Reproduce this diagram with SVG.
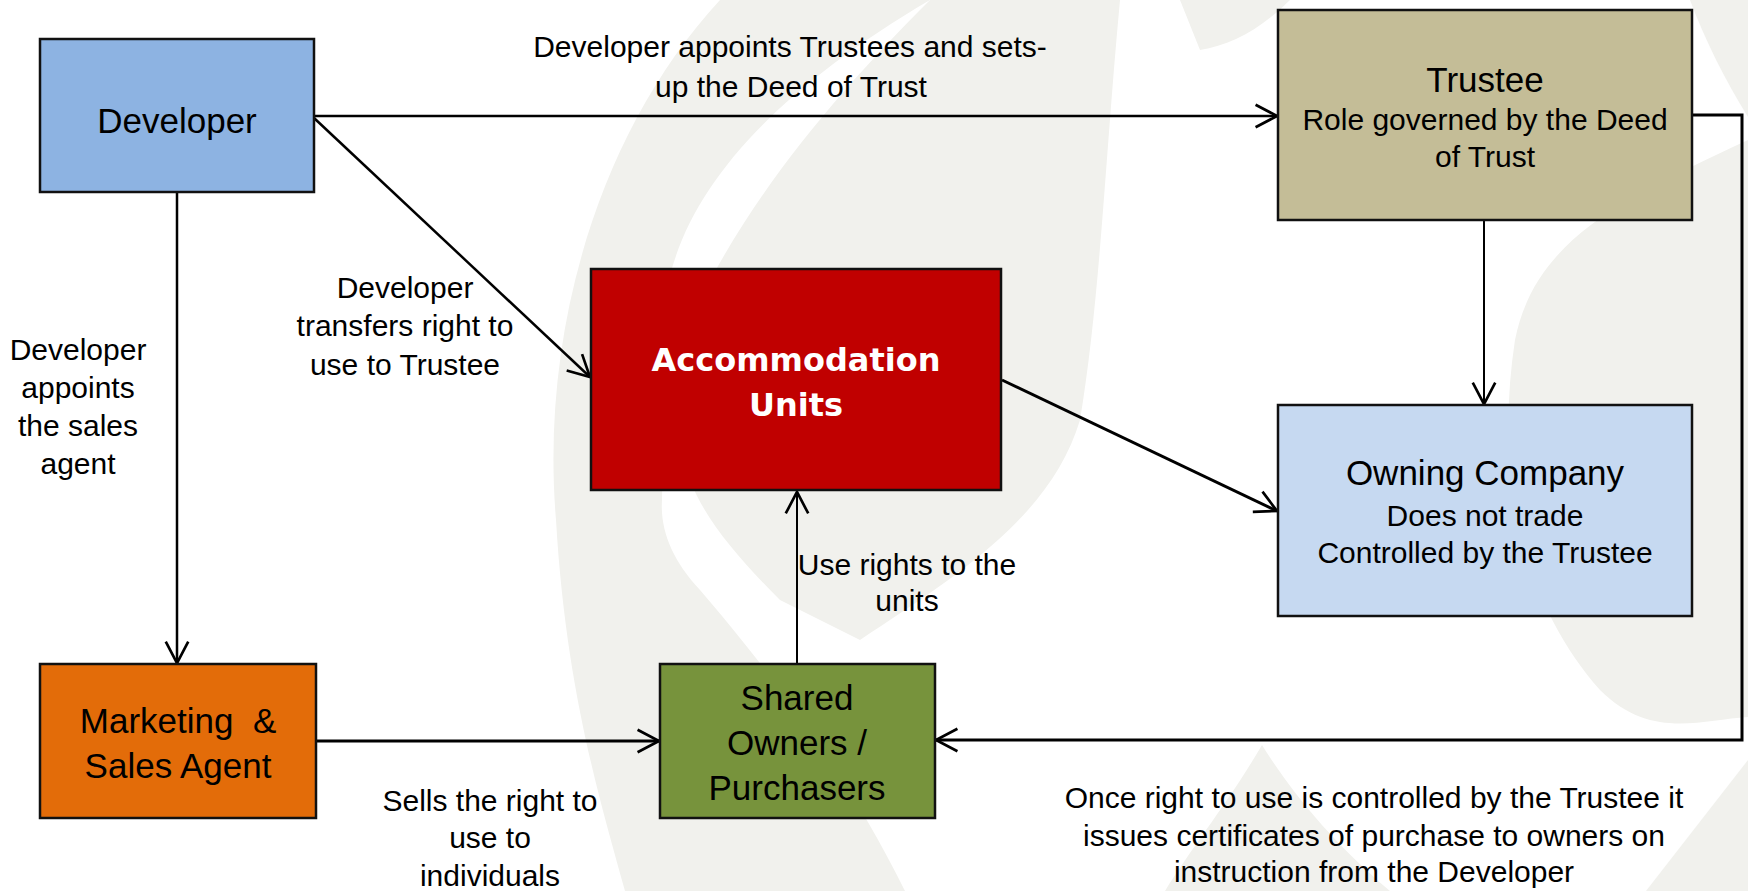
<svg xmlns="http://www.w3.org/2000/svg" width="1748" height="891" viewBox="0 0 1748 891">
  <defs>
    <style>
      .box { stroke: #111; stroke-width: 2.5; }
      .title { font-family: "Liberation Sans", Arial, sans-serif; font-size: 35px; fill: #000; text-anchor: middle; }
      .sub { font-family: "Liberation Sans", Arial, sans-serif; font-size: 30px; fill: #000; text-anchor: middle; }
      .lbl { font-family: "Liberation Sans", Arial, sans-serif; font-size: 30px; fill: #000; text-anchor: middle; }
      .bold { font-family: "DejaVu Sans", Verdana, sans-serif; font-weight: bold; font-size: 32px; fill: #fff; text-anchor: middle; }
      .edge { fill: none; stroke: #000; stroke-width: 2.5; marker-end: url(#arrow); }
      .wm { fill: #f1f1ed; }
    </style>
    <marker id="arrow" markerUnits="userSpaceOnUse" markerWidth="30" markerHeight="30" viewBox="-24 -14 28 28" refX="0" refY="0" orient="auto">
      <path d="M -20 -10.5 L 0 0 L -20 10.5" fill="none" stroke="#000" stroke-width="2.5"/>
    </marker>
  </defs>

  <rect width="1748" height="891" fill="#fff"/>

  <!-- faint background logo -->
  <g id="watermark">
    <path class="wm" d="M 720,0 C 600,130 540,330 556,520 C 566,690 600,800 625,891 L 905,891 C 840,760 760,660 700,590 C 672,560 660,530 662,500 L 665,300 C 680,200 760,100 930,0 Z"/>
    <path class="wm" d="M 930,0 L 1120,0 C 1105,160 1100,300 1080,420 C 1050,520 950,580 860,640 L 780,600 C 740,560 705,520 690,480 L 700,300 C 760,180 850,80 930,0 Z"/>
    <path class="wm" d="M 1180,0 L 1290,0 C 1260,30 1230,45 1200,50 Z"/>
    <path class="wm" d="M 1690,0 L 1748,0 L 1748,117 C 1725,80 1705,40 1690,0 Z"/>
    <path class="wm" d="M 1748,140 C 1620,200 1535,240 1515,340 C 1495,470 1520,600 1600,690 C 1650,740 1700,720 1748,717 Z"/>
    <path class="wm" d="M 1748,760 L 1646,891 L 1748,891 Z"/>
    <path class="wm" d="M 1262,745 C 1230,800 1190,850 1165,891 L 1390,891 C 1330,840 1290,790 1262,745 Z"/>
  </g>

  <g id="connectors">
    <line class="edge" x1="314" y1="116" x2="1277" y2="116"/>
    <line class="edge" x1="314" y1="118" x2="590" y2="377"/>
    <line class="edge" x1="177" y1="192" x2="177" y2="663"/>
    <line class="edge" x1="1484" y1="221" x2="1484" y2="404" style="stroke-width:2"/>
    <polyline class="edge" points="1692,115 1742,115 1742,740 936,740" style="stroke-width:3"/>
    <line class="edge" x1="1002" y1="380" x2="1277" y2="511" style="stroke-width:3"/>
    <line class="edge" x1="797" y1="664" x2="797" y2="492" style="stroke-width:2"/>
    <line class="edge" x1="316" y1="741" x2="659" y2="741" style="stroke-width:3"/>
  </g>

  <g id="edge-labels">
    <text class="lbl" x="790" y="57">Developer appoints Trustees and sets-</text>
    <text class="lbl" x="791" y="97">up the Deed of Trust</text>
    <text class="lbl" x="405" y="298">Developer</text>
    <text class="lbl" x="405" y="336">transfers right to</text>
    <text class="lbl" x="405" y="375">use to Trustee</text>
    <text class="lbl" x="78" y="360">Developer</text>
    <text class="lbl" x="78" y="398">appoints</text>
    <text class="lbl" x="78" y="436">the sales</text>
    <text class="lbl" x="78" y="474">agent</text>
    <text class="lbl" x="907" y="575">Use rights to the</text>
    <text class="lbl" x="907" y="611">units</text>
    <text class="lbl" x="490" y="811">Sells the right to</text>
    <text class="lbl" x="490" y="848">use to</text>
    <text class="lbl" x="490" y="886">individuals</text>
    <text class="lbl" x="1374" y="808">Once right to use is controlled by the Trustee it</text>
    <text class="lbl" x="1374" y="846">issues certificates of purchase to owners on</text>
    <text class="lbl" x="1374" y="882">instruction from the Developer</text>
  </g>

  <g id="developer">
    <rect class="box" x="40" y="39" width="274" height="153" fill="#8db3e2"/>
    <text class="title" x="177" y="133">Developer</text>
  </g>

  <g id="trustee">
    <rect class="box" x="1278" y="10" width="414" height="210" fill="#c4bd97"/>
    <text class="title" x="1485" y="92">Trustee</text>
    <text class="sub" x="1485" y="130">Role governed by the Deed</text>
    <text class="sub" x="1485" y="167">of Trust</text>
  </g>

  <g id="accommodation-units">
    <rect class="box" x="591" y="269" width="410" height="221" fill="#c00000"/>
    <text class="bold" x="796" y="371">Accommodation</text>
    <text class="bold" x="796" y="416">Units</text>
  </g>

  <g id="owning-company">
    <rect class="box" x="1278" y="405" width="414" height="211" fill="#c6d9f1"/>
    <text class="title" x="1485" y="485">Owning Company</text>
    <text class="sub" x="1485" y="526">Does not trade</text>
    <text class="sub" x="1485" y="563">Controlled by the Trustee</text>
  </g>

  <g id="sales-agent">
    <rect class="box" x="40" y="664" width="276" height="154" fill="#e36c09"/>
    <text class="title" x="178" y="733" style="white-space:pre">Marketing  &amp;</text>
    <text class="title" x="178" y="778">Sales Agent</text>
  </g>

  <g id="shared-owners">
    <rect class="box" x="660" y="664" width="275" height="154" fill="#77933c"/>
    <text class="title" x="797" y="710">Shared</text>
    <text class="title" x="797" y="755">Owners /</text>
    <text class="title" x="797" y="800">Purchasers</text>
  </g>
</svg>
